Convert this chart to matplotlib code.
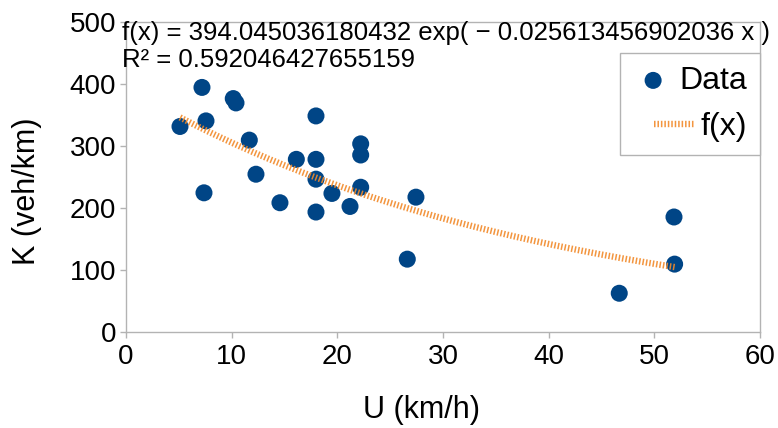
import numpy as np
import matplotlib
matplotlib.use("Agg")
import matplotlib.pyplot as plt

# ---- data ----
U = [5.11, 7.19, 7.57, 7.38, 10.15, 10.41, 11.67, 12.30, 14.57, 16.12,
     17.98, 17.98, 17.98, 17.98, 19.49, 21.20, 22.21, 22.21, 22.21,
     26.62, 27.44, 46.68, 51.86, 51.92]
K = [331, 394, 340, 224, 376, 369, 309, 254, 208, 278,
     348, 278, 246, 193, 223, 202, 303, 285, 233,
     117, 217, 62, 185, 109]

# trend line coefficients shown on the chart
A = 394.045036180432
B = 0.025613456902036
R2 = 0.592046427655159

x_ticks = [0, 10, 20, 30, 40, 50, 60]
y_ticks = [0, 100, 200, 300, 400, 500]

eq_text = "f(x) = 394.045036180432 exp( \u2212 0.025613456902036 x )"
r2_text = "R\u00b2 = 0.592046427655159"

plt.rcParams['font.family'] = ['Liberation Sans', 'DejaVu Sans']

W, H = 778, 428
fig = plt.figure(figsize=(W / 100, H / 100), dpi=100)
ax = fig.add_axes([126 / W, 1 - 331.7 / H, (760 - 126) / W, (331.7 - 21.7) / H])

blue = '#004586'
orange = '#f28a2a'
gray = '#b3b3b3'

ax.scatter(U, K, s=150, color=blue, edgecolors='none', zorder=3, label='Data')

xs = np.linspace(min(U), max(U), 200)
ys = A * np.exp(-B * xs)
ax.plot(xs, ys, color=orange, lw=4.6, dashes=(0.24, 0.30), solid_capstyle='butt',
        dash_capstyle='butt', zorder=4, label='f(x)', alpha=0.9)

ax.set_xlim(0, 60)
ax.set_ylim(0, 500)
ax.set_xticks(x_ticks)
ax.set_yticks(y_ticks)
ax.tick_params(axis='both', direction='out', length=4, width=1, color=gray,
               labelsize=20)
ax.tick_params(axis='x', pad=5)
ax.tick_params(axis='y', pad=3)
for sp in ax.spines.values():
    sp.set_color(gray)
    sp.set_linewidth(1)

ax.set_xlabel('U (km/h)', fontsize=22, va='center', ha='center')
ax.set_ylabel('K (veh/km)', fontsize=22, va='center', ha='center')
ax.xaxis.set_label_coords((422 - 126) / 634, (331.7 - 410) / 310)
ax.yaxis.set_label_coords((27 - 126) / 634, (331.7 - 191) / 310)

fig.text(122 / W, 1 - 33 / H, eq_text, fontsize=18.5, ha='left', va='center')
fig.text(122 / W, 1 - 60 / H, r2_text, fontsize=18.5, ha='left', va='center')

leg = ax.legend(loc='upper right', bbox_to_anchor=(760 / W, 1 - 53 / H),
                bbox_transform=fig.transFigure, borderaxespad=0,
                fontsize=23, frameon=True, fancybox=False, framealpha=1,
                edgecolor=gray, handlelength=1.25, handletextpad=0.2,
                labelspacing=0.5, borderpad=0.4, markerscale=1.0)
leg.get_frame().set_linewidth(1)
try:
    for col in leg._legend_handle_box.get_children():
        col.align = 'right'
except Exception:
    pass

fig.savefig('out.png', dpi=100)
